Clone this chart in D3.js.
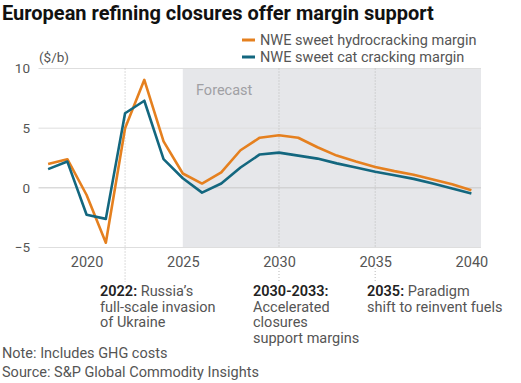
<!DOCTYPE html>
<html><head><meta charset="utf-8">
<script src="https://cdn.jsdelivr.net/npm/d3@7"></script>
<style>
body{margin:0;background:#fff;}
svg{display:block;font-family:Roboto, "Open Sans", sans-serif;}
</style></head>
<body><svg id="c" width="521" height="383"></svg>
<script>
const years = d3.range(2018, 2041);
const hydrocracking = [2.0, 2.4, -0.6, -4.6, 5.0, 9.05, 3.9, 1.2, 0.36, 1.3, 3.15, 4.2, 4.4, 4.2, 3.4, 2.7, 2.2, 1.75, 1.4, 1.1, 0.7, 0.3, -0.2];
const catcracking = [1.57, 2.2, -2.25, -2.6, 6.25, 7.3, 2.4, 0.8, -0.4, 0.36, 1.7, 2.8, 2.95, 2.7, 2.45, 2.05, 1.7, 1.35, 1.05, 0.75, 0.36, -0.05, -0.48];
const xTicks = [2020, 2025, 2030, 2035, 2040];
const yTicks = [-5, 0, 5, 10];
const seriesNames = ["NWE sweet hydrocracking margin", "NWE sweet cat cracking margin"];
const colors = ["#e5801f", "#13677f"];
const forecastStart = 2025;
const eventYears = [2022, 2030, 2035];
const annotations = [
  {year: 2022, bold: "2022:", lines: [" Russia\u2019s", "full-scale invasion", "of Ukraine"]},
  {year: 2030, bold: "2030-2033:", lines: ["", "Accelerated", "closures", "support margins"]},
  {year: 2035, bold: "2035:", lines: [" Paradigm", "shift to reinvent fuels"]}
];

const svg = d3.select("#c");
const x = d3.scaleLinear().domain([2017.5, 2040.5]).range([38.5, 481]);
const y = d3.scaleLinear().domain([-5, 10]).range([247.5, 68.5]);

// title
svg.append("text").attr("x", 2).attr("y", 20).attr("font-size", 20).attr("font-weight", 700)
  .attr("fill", "#111").text("European refining closures offer margin support");

// forecast region
svg.append("rect").attr("x", x(forecastStart)).attr("y", y(10))
  .attr("width", x.range()[1] - x(forecastStart)).attr("height", y(-5) - y(10)).attr("fill", "#e6e7ea");

// grid
svg.append("g").selectAll("line").data(yTicks).join("line")
  .attr("x1", x.range()[0]).attr("x2", x.range()[1])
  .attr("y1", d => y(d)).attr("y2", d => y(d))
  .attr("stroke", d => d === 0 ? "#c8c8c8" : "#dedede").attr("stroke-width", 1);

// event dotted lines
const ev = svg.append("g");
eventYears.forEach(yr => {
  const segs = yr === 2022 ? [[y(10), 282]] : [[y(10), y(-5)], [268, 281]];
  segs.forEach(s => ev.append("line").attr("x1", x(yr)).attr("x2", x(yr)).attr("y1", s[0]).attr("y2", s[1])
    .attr("stroke", "#b8b8b8").attr("stroke-width", 1).attr("stroke-dasharray", "1,2"));
});

svg.append("text").attr("x", 196).attr("y", 95).attr("font-size", 14.5).attr("fill", "#a0a0a4").text("Forecast");

// y axis
const yAxis = d3.axisLeft(y).tickValues(yTicks).tickSize(0).tickFormat(d3.format("d"));
const ya = svg.append("g").attr("transform", `translate(33,0)`).call(yAxis);
ya.select(".domain").remove();
ya.selectAll("text").attr("font-size", 13.5).attr("fill", "#555").attr("font-family", "Roboto, sans-serif");

svg.append("text").attr("x", 39).attr("y", 62).attr("font-size", 13.5).attr("fill", "#555").text("($/b)");

// x axis
const xAxis = d3.axisBottom(x).tickValues(xTicks).tickSize(0).tickFormat(d3.format("d"));
const xa = svg.append("g").attr("transform", `translate(0,254)`).call(xAxis);
xa.select(".domain").remove();
xa.selectAll("text").attr("font-size", 14.5).attr("fill", "#555").attr("font-family", "Roboto, sans-serif");

// lines
const line = d3.line().x((d, i) => x(years[i])).y(d => y(d));
[hydrocracking, catcracking].forEach((s, i) => {
  svg.append("path").datum(s).attr("d", line).attr("fill", "none")
    .attr("stroke", colors[i]).attr("stroke-width", 2.6).attr("stroke-linejoin", "round");
});

// legend
const lg = svg.append("g");
seriesNames.forEach((n, i) => {
  const cy = 40 + i * 17;
  lg.append("line").attr("x1", 242).attr("x2", 255).attr("y1", cy).attr("y2", cy)
    .attr("stroke", colors[i]).attr("stroke-width", 3);
  lg.append("text").attr("x", 260).attr("y", cy + 5).attr("font-size", 14.5).attr("fill", "#555").text(n);
});

// annotations
const annX = {2022: 100, 2030: 253, 2035: 367};
annotations.forEach(a => {
  const t = svg.append("text").attr("x", annX[a.year]).attr("y", 296).attr("font-size", 14.5).attr("fill", "#555");
  const first = t.append("tspan").attr("x", annX[a.year]).attr("dy", 0);
  first.append("tspan").attr("font-weight", 600).attr("fill", "#222").text(a.bold);
  first.append("tspan").text(a.lines[0]);
  a.lines.slice(1).forEach(l => t.append("tspan").attr("x", annX[a.year]).attr("dy", 15.5).text(l));
});

// notes
svg.append("text").attr("x", 2).attr("y", 358).attr("font-size", 14.5).attr("fill", "#555").text("Note: Includes GHG costs");
svg.append("text").attr("x", 2).attr("y", 376.5).attr("font-size", 14.5).attr("fill", "#555").text("Source: S&P Global Commodity Insights");
</script></body></html>
